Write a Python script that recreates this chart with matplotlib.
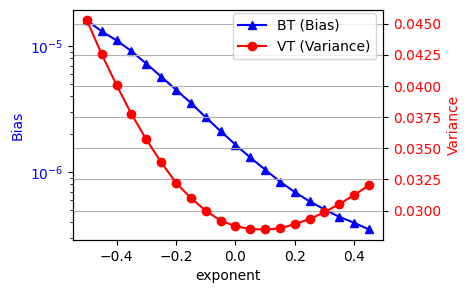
import numpy as np
import matplotlib
matplotlib.use("Agg")
import matplotlib.pyplot as plt

exponent = np.round(np.arange(-0.5, 0.46, 0.05), 2)
bias = [1.60e-5, 1.31e-5, 1.11e-5, 9.14e-6, 7.26e-6, 5.74e-6, 4.51e-6, 3.55e-6,
        2.73e-6, 2.12e-6, 1.66e-6, 1.31e-6, 1.05e-6, 8.44e-7, 6.97e-7, 5.88e-7,
        5.08e-7, 4.43e-7, 3.98e-7, 3.52e-7]
variance = [0.04526, 0.04253, 0.04006, 0.03775, 0.03571, 0.03388, 0.03223, 0.03101,
            0.03000, 0.02920, 0.02876, 0.02852, 0.02849, 0.02857, 0.02892, 0.02932,
            0.02987, 0.03053, 0.03124, 0.03204]

fig, ax1 = plt.subplots(figsize=(4.7, 2.94), dpi=100)
fig.subplots_adjust(left=0.155, right=0.815, bottom=0.184, top=0.966)

l1, = ax1.plot(exponent, bias, 'b-^', label='BT (Bias)')
ax1.set_yscale('log')
ax1.set_xlabel('exponent')
ax1.set_ylabel('Bias', color='b')
ax1.tick_params(axis='y', labelcolor='b')

ax2 = ax1.twinx()
l2, = ax2.plot(exponent, variance, 'r-o', label='VT (Variance)')
ax2.set_ylabel('Variance', color='r')
ax2.tick_params(axis='y', labelcolor='r')
ax2.grid(True)

# legend sits a bit higher than the default upper right spot
ax2.legend(handles=[l1, l2], loc='upper right', bbox_to_anchor=(1.0, 1.016))

fig.savefig('out.png')
